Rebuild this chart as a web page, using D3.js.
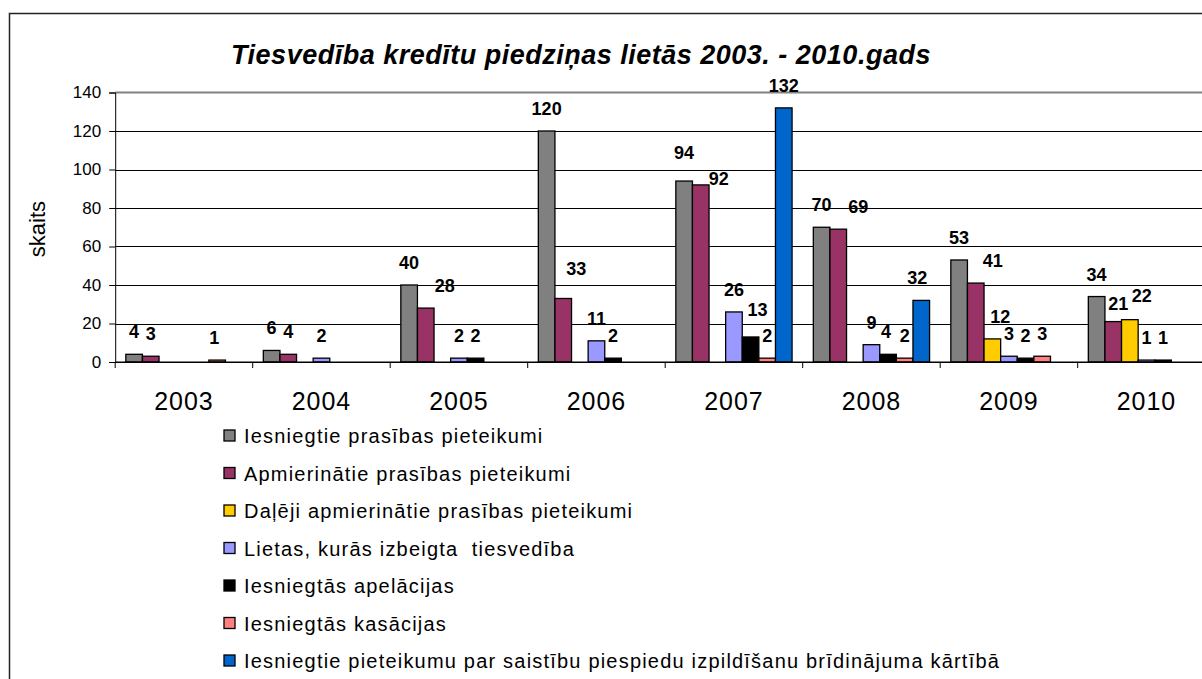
<!DOCTYPE html>
<html>
<head>
<meta charset="utf-8">
<script src="https://cdn.jsdelivr.net/npm/d3@7"></script>
<style>
  body { margin: 0; background: #fff; }
  svg { font-family: "Liberation Sans", Arial, sans-serif; display: block; }
  .legend text { white-space: pre; }
</style>
</head>
<body>
<svg id="chart" width="1202" height="679"></svg>
<script>
// Data
const years = ["2003", "2004", "2005", "2006", "2007", "2008", "2009", "2010"];
const seriesNames = [
  "Iesniegtie prasības pieteikumi",
  "Apmierinātie prasības pieteikumi",
  "Daļēji apmierinātie prasības pieteikumi",
  "Lietas, kurās izbeigta  tiesvedība",
  "Iesniegtās apelācijas",
  "Iesniegtās kasācijas",
  "Iesniegtie pieteikumu par saistību piespiedu izpildīšanu brīdinājuma kārtībā"
];
const iesniegtie   = [4, 6, 40, 120, 94, 70, 53, 34];
const apmierinatie = [3, 4, 28, 33, 92, 69, 41, 21];
const dalejiApm    = [null, null, null, null, null, null, 12, 22];
const izbeigta     = [null, 2, 2, 11, 26, 9, 3, 1];
const apelacijas   = [null, null, 2, 2, 13, 4, 2, 1];
const kasacijas    = [1, null, null, null, 2, 2, 3, null];
const bridinajuma  = [null, null, null, null, 132, 32, null, null];
const yTicks = [0, 20, 40, 60, 80, 100, 120, 140];

const allSeries = [iesniegtie, apmierinatie, dalejiApm, izbeigta, apelacijas, kasacijas, bridinajuma];
const colors = ["#808080", "#993366", "#FFCC00", "#9999FF", "#000000", "#FF8080", "#0066CC"];

// label nudges (dx, dy in px) for labels that were moved by hand in the original
const labelNudge = {
  "1-2005": [19, 0], "1-2006": [13, -7], "1-2007": [18, 16], "0-2007": [0, -6],
  "4-2007": [7, -5], "1-2008": [20, 0], "1-2009": [17, 0], "2-2009": [8, 0],
  "1-2010": [5, 4], "2-2010": [12, -2], "6-2008": [-4, 0], "4-2008": [-2, 0],
  "5-2003": [-3, 0]
};

const svg = d3.select("#chart");
const font = "\"Liberation Sans\", Arial, sans-serif";

// outer chart frame (cropped on the right and bottom in the original)
svg.append("rect")
  .attr("x", 9.5).attr("y", 13.5)
  .attr("width", 1250).attr("height", 700)
  .attr("fill", "#fff").attr("stroke", "#222").attr("stroke-width", 1.5);

const left = 115.2, bandW = 137.5;
const x0 = d3.scaleBand().domain(years).range([left, left + bandW * years.length]);
const x1 = d3.scaleBand().domain(d3.range(seriesNames.length))
  .range([0, x0.bandwidth()]).paddingInner(0).paddingOuter(0.64);
const y = d3.scaleLinear().domain([0, 140]).range([362, 92.5]);

// title
svg.append("text")
  .attr("x", 581).attr("y", 64)
  .attr("text-anchor", "middle")
  .attr("font-size", 27).attr("font-weight", "bold").attr("font-style", "italic")
  .attr("letter-spacing", 0.5)
  .text("Tiesvedība kredītu piedziņas lietās 2003. - 2010.gads");

// gridlines
svg.append("g").selectAll("line")
  .data(yTicks.slice(0, -1))
  .join("line")
  .attr("x1", left).attr("x2", 1210)
  .attr("y1", d => Math.round(y(d)) + 0.5).attr("y2", d => Math.round(y(d)) + 0.5)
  .attr("stroke", "#000").attr("stroke-width", 1);

// plot area top border
svg.append("line")
  .attr("x1", left).attr("x2", 1210)
  .attr("y1", y(140)).attr("y2", y(140))
  .attr("stroke", "#808080").attr("stroke-width", 2);

// y axis
const yAxis = svg.append("g")
  .attr("transform", `translate(${left},0)`)
  .call(d3.axisLeft(y).tickValues(yTicks).tickSize(6).tickPadding(8));
yAxis.select(".domain").attr("stroke", "#000");
yAxis.selectAll("text").attr("font-size", 17).attr("font-family", font).attr("fill", "#000");

// y axis title
svg.append("text")
  .attr("transform", "translate(45,229) rotate(-90)")
  .attr("text-anchor", "middle")
  .attr("font-size", 22)
  .text("skaits");

// bars
const groups = svg.append("g").selectAll("g")
  .data(years)
  .join("g")
  .attr("transform", d => `translate(${x0(d)},0)`);

groups.selectAll("rect")
  .data((yr, i) => allSeries.map((s, j) => ({ j, v: s[i], yr })).filter(d => d.v != null))
  .join("rect")
  .attr("x", d => x1(d.j))
  .attr("y", d => y(d.v))
  .attr("width", x1.bandwidth())
  .attr("height", d => y(0) - y(d.v))
  .attr("fill", d => colors[d.j])
  .attr("stroke", "#000").attr("stroke-width", 1.3);

// data labels
groups.selectAll("text")
  .data((yr, i) => allSeries.map((s, j) => ({ j, v: s[i], yr })).filter(d => d.v != null))
  .join("text")
  .attr("x", d => x1(d.j) + x1.bandwidth() / 2 + (labelNudge[d.j + "-" + d.yr] || [0, 0])[0])
  .attr("y", d => y(d.v) - 16 + (labelNudge[d.j + "-" + d.yr] || [0, 0])[1])
  .attr("text-anchor", "middle")
  .attr("font-size", 18).attr("font-weight", "bold")
  .text(d => d.v);

// x axis
const xAxis = svg.append("g")
  .attr("transform", `translate(0,${y(0)})`)
  .call(d3.axisBottom(x0).tickSize(0).tickPadding(30));
xAxis.select(".domain").remove();
xAxis.selectAll("text").attr("font-size", 25).attr("font-family", font).attr("fill", "#000")
  .attr("letter-spacing", 1);
svg.append("line")
  .attr("x1", left).attr("x2", 1210).attr("y1", y(0)).attr("y2", y(0))
  .attr("stroke", "#000");
svg.append("g").selectAll("line")
  .data(years.map((d, i) => i).concat([years.length]))
  .join("line")
  .attr("x1", i => left + bandW * i).attr("x2", i => left + bandW * i)
  .attr("y1", y(0)).attr("y2", y(0) + 6)
  .attr("stroke", "#000");

// legend
const legend = svg.append("g").attr("class", "legend").selectAll("g")
  .data(seriesNames)
  .join("g")
  .attr("transform", (d, i) => `translate(224,${436 + i * 37.5})`);
legend.append("rect")
  .attr("x", 0).attr("y", -6).attr("width", 11).attr("height", 11)
  .attr("fill", (d, i) => colors[i]).attr("stroke", "#000").attr("stroke-width", 1.3);
legend.append("text")
  .attr("x", 20).attr("y", 7)
  .attr("font-size", 20).attr("letter-spacing", 1.2)
  .text(d => d);
</script>
</body>
</html>
